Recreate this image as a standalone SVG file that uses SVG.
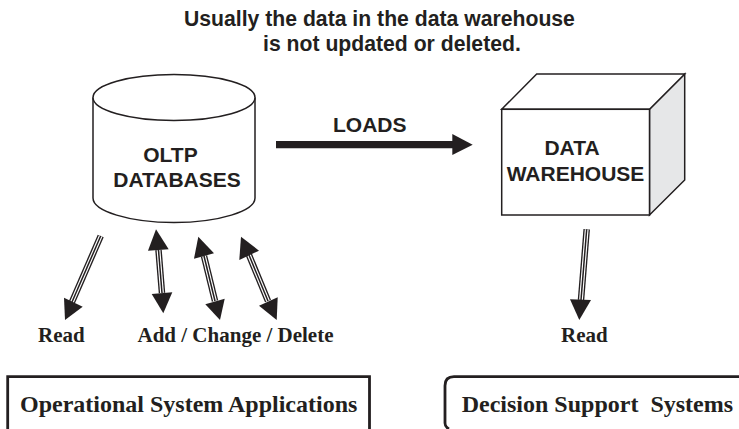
<svg xmlns="http://www.w3.org/2000/svg" width="739" height="429" viewBox="0 0 739 429">
<style>
.ln{fill:none;stroke:#231f20;stroke-width:2.800}
.wh{fill:#fff;stroke:#231f20;stroke-width:1.500}
.sans{font-family:"Liberation Sans",Arial,sans-serif;font-weight:bold;fill:#231f20;font-size:21px}
.ttl{font-size:21.200px}
.serif{font-family:"Liberation Serif","Times New Roman",serif;font-weight:bold;fill:#231f20;font-size:21px}
.box{font-size:24px}
.s1{stroke:#231f20;stroke-width:6.500;fill:none}
.s2{stroke:#fff;stroke-width:3.800;fill:none}
.s3{stroke:#231f20;stroke-width:1.500;fill:none}
.hd{fill:#231f20}
</style>
<rect width="739" height="429" fill="#fff"/>
<g id="title">
<text class="sans ttl" x="184" y="26">Usually the data in the data warehouse</text>
<text class="sans ttl" x="263" y="51">is not updated or deleted.</text>
</g>
<g id="oltp">
<path class="wh" d="M93 97.500V198C93 211 129 222.500 174 222.500S255 211 255 198V97.500"/>
<ellipse class="wh" cx="174" cy="97.500" rx="81" ry="23"/>
<text class="sans" x="170.500" y="161.500" text-anchor="middle">OLTP</text>
<text class="sans" x="177" y="187" text-anchor="middle">DATABASES</text>
</g>
<g id="warehouse">
<path d="M649.500 109.300L684.700 74V180L649.500 215Z" fill="#e6e7e8" stroke="#231f20" stroke-width="1.500"/>
<path class="wh" d="M501.700 109.300L536.700 74H684.700L649.500 109.300Z"/>
<rect class="wh" x="501.700" y="109.300" width="147.800" height="105.700"/>
<text class="sans" x="572" y="155" text-anchor="middle">DATA</text>
<text class="sans" x="575.500" y="180.700" text-anchor="middle">WAREHOUSE</text>
</g>
<g id="connectors">
<g id="loads">
<path d="M276 144.700H455" stroke="#231f20" stroke-width="7.300" fill="none"/>
<polygon class="hd" points="452.300,134 472.700,144.700 452.300,155"/>
<text class="sans" x="333" y="132">LOADS</text>
</g>
<g id="read-oltp">
<path class="s1" d="M100.700 236L72 302"/><path class="s2" d="M100.700 236L72 302"/><path class="s3" d="M100.700 236L72 302"/>
<polygon class="hd" points="65,320 64,297.700 82.700,306.700"/>
</g>
<g id="acd-1">
<path class="s1" d="M158.500 250L162 293"/><path class="s2" d="M158.500 250L162 293"/><path class="s3" d="M158.500 250L162 293"/>
<polygon class="hd" points="156,229.300 148,250.700 168.700,249.300"/>
<polygon class="hd" points="163.300,313.300 151.700,294 172.300,292.300"/>
</g>
<g id="acd-2">
<path class="s1" d="M204 256L215 301"/><path class="s2" d="M204 256L215 301"/><path class="s3" d="M204 256L215 301"/>
<polygon class="hd" points="198.300,236.700 194,258.700 214,253.300"/>
<polygon class="hd" points="220,320 205.300,304.300 224.700,298.700"/>
</g>
<g id="acd-3">
<path class="s1" d="M249 255L268 301"/><path class="s2" d="M249 255L268 301"/><path class="s3" d="M249 255L268 301"/>
<polygon class="hd" points="241,236.700 239.300,260 259,250.700"/>
<polygon class="hd" points="276.700,320 259,305.700 277.700,297.300"/>
</g>
<g id="read-dw">
<path class="s1" d="M586.700 229.300L581 300"/><path class="s2" d="M586.700 229.300L581 300"/><path class="s3" d="M586.700 229.300L581 300"/>
<polygon class="hd" points="579.300,320 570,299.300 591,300"/>
</g>
</g>
<g id="labels">
<text class="serif" x="38" y="342">Read</text>
<text class="serif" x="137.500" y="342">Add / Change / Delete</text>
<text class="serif" x="561" y="342">Read</text>
</g>
<g id="operational">
<path class="ln" d="M7.700 429V376.700H369.500V429"/>
<text class="serif box" x="20" y="411.700">Operational System Applications</text>
</g>
<g id="decision">
<path class="ln" d="M449 429Q445 427 445 423V385.700Q445 376.700 454 376.700H739"/>
<text class="serif box" x="461.700" y="411.700" xml:space="preserve">Decision Support  Systems</text>
</g>
</svg>
